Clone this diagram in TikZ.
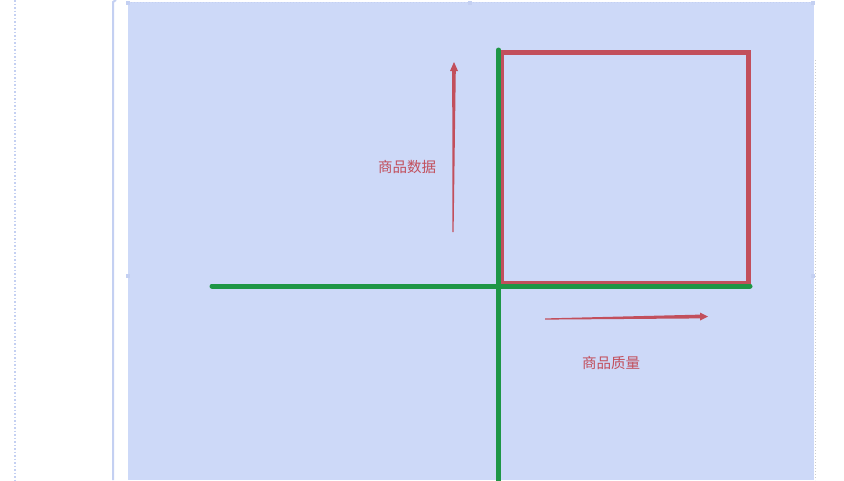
\documentclass[tikz,border=0pt]{standalone}
\usepackage{fontspec}
\usepackage{xcolor}
\usepackage{tikz}
\usetikzlibrary{arrows.meta, positioning, calc}
\newfontfamily\cjk{Noto Sans CJK SC}
\definecolor{quadblue}{HTML}{CDD9F8}
\definecolor{quadedge}{HTML}{C4D0F2}
\definecolor{quadred}{HTML}{C24F5C}
\definecolor{quadgreen}{HTML}{1E9646}

\begin{document}
\begin{tikzpicture}[
    x=1pt, y=-1pt,
    canvas/.style={fill=quadblue},
    axisline/.style={quadgreen, line width=5pt, line cap=round},
    boxline/.style={quadred, line width=4.5pt, line join=miter},
    ink/.style={fill=quadred},
    tag/.style={text=quadred, font=\cjk\fontsize{14.5}{16}\selectfont, inner sep=0pt},
    handle/.style={fill=quadedge, minimum size=4pt, inner sep=0pt},
  ]
  \useasboundingbox (0,0) rectangle (844,480);
  % page edges
  \draw[quadedge, line width=1.5pt, dotted] (15,0) -- (15,480);
  \draw[quadedge, line width=2pt] (116,0) -- (113,2) -- (113,480);
  \fill[canvas] (128,2) rectangle (814,480);
  \draw[quadedge, line width=1pt, dotted] (128,2.5) -- (814,2.5);
  \draw[gray!40, line width=1pt, dotted] (815.5,60) -- (815.5,480);
  \foreach \p in {(128,3),(470,3),(813,3),(128,276),(813,276)}
    \node[handle] at \p {};

  % quadrant box
  \coordinate (q1) at (501.5,52.5);
  \coordinate (q2) at (748.5,283.5);
  \draw[boxline] (q1) rectangle (q2);

  % axes
  \coordinate (xl) at (212,286);
  \coordinate (xr) at (750,286);
  \coordinate (yt) at (498.5,50);
  \coordinate (yb) at (498.5,482);
  \draw[axisline] (xl) -- (xr);
  \draw[axisline] (yt) -- (yb);

  % hand-drawn arrows: thin tail, wider towards the head
  \coordinate (up0) at (453,232);
  \coordinate (up1) at (454,62);
  \fill[ink] ($(up0)+(-0.6,0)$) -- ($(up0)+(0.6,0)$) -- ($(up1)+(1.8,8)$)
    -- ($(up1)+(-1.8,8)$) -- cycle;
  \fill[ink] ($(up1)+(-4,9)$) -- (up1) -- ($(up1)+(4,9)$) -- cycle;
  \node[tag] (data) at (407,167) {商品数据};

  \coordinate (rt0) at (545,319);
  \coordinate (rt1) at (708,316.5);
  \fill[ink] ($(rt0)+(0,-0.6)$) -- ($(rt0)+(0,0.6)$) -- ($(rt1)+(-7,1.9)$)
    -- ($(rt1)+(-7,-1.9)$) -- cycle;
  \fill[ink] ($(rt1)+(-8,-4)$) -- (rt1) -- ($(rt1)+(-8,4)$) -- cycle;
  \node[tag] (quality) at (611,363) {商品质量};
\end{tikzpicture}
\end{document}
